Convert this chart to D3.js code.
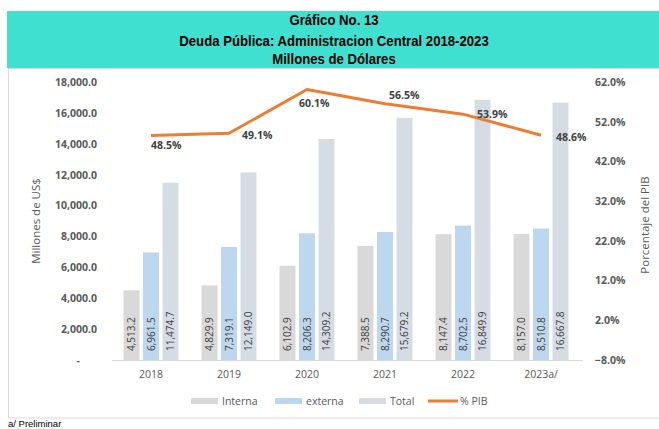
<!DOCTYPE html>
<html>
<head>
<meta charset="utf-8">
<script src="https://cdn.jsdelivr.net/npm/d3@7/dist/d3.min.js"></script>
<style>
  html, body { margin: 0; padding: 0; background: #fff; }
  svg { display: block; }
</style>
</head>
<body>
<svg id="chart" width="659" height="429"></svg>
<script>
// Deuda pública de la Administración Central, millones de US$ y % del PIB
const years = ["2018", "2019", "2020", "2021", "2022", "2023a/"];
const interna = [4513.2, 4829.9, 6102.9, 7388.5, 8147.4, 8157.0];
const externa = [6961.5, 7319.1, 8206.3, 8290.7, 8702.5, 8510.8];
const total = [11474.7, 12149.0, 14309.2, 15679.2, 16849.9, 16667.8];
const pctPib = [48.5, 49.1, 60.1, 56.5, 53.9, 48.6];
const leftTicks = [0, 2000, 4000, 6000, 8000, 10000, 12000, 14000, 16000, 18000];
const rightTicks = [-8, 2, 12, 22, 32, 42, 52, 62];
const titleLines = ["Gráfico No. 13", "Deuda Pública: Administracion Central 2018-2023", "Millones de Dólares"];

const seriesKeys = ["Interna", "externa", "Total"];
const seriesData = { Interna: interna, externa: externa, Total: total };
const colors = { Interna: "#D9D9D9", externa: "#BDD7EE", Total: "#D6DCE4", pib: "#ED7D31" };

// label placement around each % PIB point: [dx, dy]
const pibLabelOffset = [[0, 10], [13, 2], [-8, 14], [4, -9], [14, 0], [15, 2]];

const svg = d3.select("#chart");
const FONT = "'Open Sans', 'Liberation Sans', sans-serif";
const GRAY = "#595959";

// heading band
svg.append("rect").attr("x", 7).attr("y", 11).attr("width", 652).attr("height", 57).attr("fill", "#40E0D0");
const titleY = [25, 46, 64];
svg.selectAll("text.title").data(titleLines).join("text")
  .attr("class", "title")
  .attr("transform", (d, i) => `translate(334,${titleY[i]}) scale(0.94,1)`)
  .attr("text-anchor", "middle")
  .attr("font-family", "'Liberation Sans', Arial, sans-serif")
  .attr("font-weight", "bold").attr("font-size", 14).attr("fill", "#000")
  .text(d => d);

// chart frame
svg.append("rect").attr("x", 8.5).attr("y", 68.5).attr("width", 660).attr("height", 349.5)
  .attr("fill", "none").attr("stroke", "#D9D9D9").attr("stroke-width", 1);

const plot = { left: 112, right: 580, top: 82, bottom: 360 };

const x = d3.scaleBand().domain(years).range([plot.left, plot.right]).padding(0);
const xs = d3.scaleBand().domain(seriesKeys).range([0, x.bandwidth()]).paddingInner(0.18).paddingOuter(0.59);
const yL = d3.scaleLinear().domain([0, 18000]).range([plot.bottom, plot.top]);
const yR = d3.scaleLinear().domain([-8, 62]).range([plot.bottom, plot.top]);

// bars
const groups = svg.append("g").selectAll("g").data(years).join("g")
  .attr("transform", d => `translate(${x(d)},0)`);
groups.selectAll("rect").data((d, i) => seriesKeys.map(k => ({ key: k, v: seriesData[k][i] })))
  .join("rect")
  .attr("x", d => xs(d.key)).attr("width", xs.bandwidth())
  .attr("y", d => yL(d.v)).attr("height", d => yL(0) - yL(d.v))
  .attr("fill", d => colors[d.key]);

// baseline
svg.append("line").attr("x1", plot.left).attr("x2", plot.right + 3)
  .attr("y1", plot.bottom + 0.5).attr("y2", plot.bottom + 0.5)
  .attr("stroke", "#D9D9D9").attr("stroke-width", 1);

// left axis
const fmtL = d => d === 0 ? "-" : d3.format(",.1f")(d);
const axL = svg.append("g").attr("transform", `translate(${plot.left - 15},0)`)
  .call(d3.axisLeft(yL).tickValues(leftTicks).tickFormat(fmtL).tickSize(0).tickPadding(0));
axL.select(".domain").remove();
axL.selectAll("text").attr("font-family", FONT).attr("font-weight", "bold")
  .attr("font-size", 10.5).attr("fill", GRAY);
axL.selectAll(".tick").filter(d => d === 0).select("text").attr("dx", -17);

// right axis
const axR = svg.append("g").attr("transform", `translate(${plot.right + 15},0)`)
  .call(d3.axisRight(yR).tickValues(rightTicks).tickFormat(d => d3.format(".1f")(d) + "%").tickSize(0).tickPadding(0));
axR.select(".domain").remove();
axR.selectAll("text").attr("font-family", FONT).attr("font-weight", "bold")
  .attr("font-size", 10.5).attr("fill", GRAY);

// category axis
const axX = svg.append("g").attr("transform", `translate(0,${plot.bottom})`)
  .call(d3.axisBottom(x).tickSize(0).tickPadding(11));
axX.select(".domain").remove();
axX.selectAll("text").attr("font-family", FONT).attr("font-size", 10.5).attr("fill", GRAY);

// axis titles
svg.append("text").attr("transform", `translate(40,${(plot.top + plot.bottom) / 2}) rotate(-90)`)
  .attr("text-anchor", "middle").attr("font-family", FONT).attr("font-size", 11.5).attr("fill", GRAY)
  .text("Millones de US$");
svg.append("text").attr("transform", `translate(649,${(plot.top + plot.bottom) / 2 + 4}) rotate(-90)`)
  .attr("text-anchor", "middle").attr("font-family", FONT).attr("font-size", 11.5).attr("fill", GRAY)
  .text("Porcentaje del PIB");

// value labels inside bars
groups.selectAll("text.val").data((d, i) => seriesKeys.map(k => ({ key: k, v: seriesData[k][i] })))
  .join("text").attr("class", "val")
  .attr("transform", d => `translate(${xs(d.key) + xs.bandwidth() / 2 + 3.5},${plot.bottom - 9}) rotate(-90)`)
  .attr("font-family", FONT).attr("font-size", 10).attr("fill", "#404040")
  .text(d => d3.format(",.1f")(d.v));

// % PIB line
const cx = d => x(d) + x.bandwidth() / 2;
const line = d3.line().x((d, i) => cx(years[i])).y(d => yR(d));
svg.append("path").datum(pctPib).attr("d", line)
  .attr("fill", "none").attr("stroke", colors.pib).attr("stroke-width", 3).attr("stroke-linejoin", "round");

svg.selectAll("text.pib").data(pctPib).join("text").attr("class", "pib")
  .attr("x", (d, i) => cx(years[i]) + pibLabelOffset[i][0])
  .attr("y", (d, i) => yR(d) + pibLabelOffset[i][1])
  .attr("dy", "0.35em")
  .attr("font-family", FONT).attr("font-weight", "bold").attr("font-size", 10.5).attr("fill", "#404040")
  .text(d => d3.format(".1f")(d) + "%");

// legend
const legendItems = [
  { label: "Interna", x: 191, type: "rect", color: colors.Interna },
  { label: "externa", x: 275, type: "rect", color: colors.externa },
  { label: "Total", x: 359, type: "rect", color: colors.Total },
  { label: "% PIB", x: 428, type: "line", color: colors.pib }
];
const lg = svg.append("g").selectAll("g").data(legendItems).join("g")
  .attr("transform", d => `translate(${d.x},401)`);
lg.filter(d => d.type === "rect").append("rect")
  .attr("x", 0).attr("y", -3).attr("width", 27).attr("height", 6).attr("fill", d => d.color);
lg.filter(d => d.type === "line").append("line")
  .attr("x1", 0).attr("x2", 30).attr("y1", 0).attr("y2", 0)
  .attr("stroke", d => d.color).attr("stroke-width", 3);
lg.append("text").attr("x", d => d.type === "line" ? 32 : 31).attr("dy", "0.35em")
  .attr("font-family", FONT).attr("font-size", 10.5).attr("fill", GRAY)
  .text(d => d.label);

// footnote
svg.append("text").attr("x", 8).attr("y", 427)
  .attr("font-family", "'Liberation Sans', Arial, sans-serif").attr("font-size", 9.5).attr("fill", "#000")
  .text("a/ Preliminar");
</script>
</body>
</html>
